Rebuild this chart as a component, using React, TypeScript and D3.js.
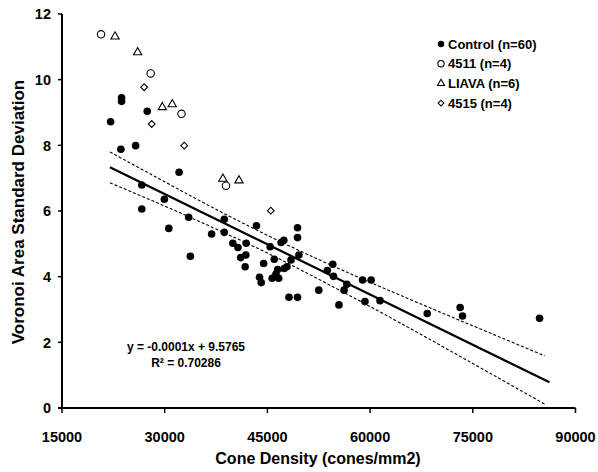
import React from 'react';
import * as d3 from 'd3';

// values
const controlDensity = [
  22100, 23700, 23700, 27450, 23600, 25750, 32100, 26650, 29950, 26650,
  33500, 30600, 33750, 36850, 38700, 38700, 43400, 49400, 49400, 47400,
  47000, 39950, 41900, 40700, 45400, 49600, 41100, 41850, 46000, 48450,
  44450, 41750, 47850, 47450, 46500, 46250, 43850, 44100, 45700, 46650,
  54550, 53750, 54650, 52500, 56600, 56200, 48150, 49400, 55450, 58900,
  60150, 59250, 61450, 68350, 73150, 73500, 84750,
];
const controlSD = [
  8.72, 9.45, 9.34, 9.04, 7.88, 7.99, 7.18, 6.79, 6.36, 6.06,
  5.81, 5.47, 4.62, 5.3, 5.75, 5.35, 5.55, 5.49, 5.19, 5.11,
  5.04, 5.02, 5.02, 4.89, 4.91, 4.66, 4.58, 4.66, 4.53, 4.51,
  4.4, 4.3, 4.3, 4.25, 4.22, 4.08, 3.98, 3.82, 3.95, 3.95,
  4.38, 4.19, 4.01, 3.59, 3.77, 3.59, 3.37, 3.37, 3.14, 3.9,
  3.9, 3.24, 3.27, 2.88, 3.06, 2.8, 2.73,
];

const g4511Density = [20700, 27950, 32450, 38950];
const g4511SD = [11.38, 10.19, 8.96, 6.77];

const liavaDensity = [22750, 26050, 29650, 31100, 38500, 40850];
const liavaSD = [11.31, 10.83, 9.16, 9.25, 6.98, 6.93];

const g4515Density = [27000, 28100, 32850, 45500];
const g4515SD = [9.77, 8.65, 7.99, 6.01];

// trend line and its confidence band
const fitSlope = -0.000102;
const fitIntercept = 9.5765;
const fitRange = [22000, 86200];
const bandDensity = [22000, 30000, 37500, 45000, 52500, 60000, 70000, 85500];
const bandUpper = [7.8, 6.89, 6.05, 5.26, 4.52, 3.83, 2.94, 1.59];
const bandLower = [6.86, 6.15, 5.45, 4.72, 3.92, 3.09, 1.94, 0.12];

const xTicks = [15000, 30000, 45000, 60000, 75000, 90000];
const yTicks = [0, 2, 4, 6, 8, 10, 12];

const legendLabels = ['Control (n=60)', '4511 (n=4)', 'LIAVA (n=6)', '4515 (n=4)'];

const font = '"Liberation Sans", Arial, sans-serif';

const Marker = ({ kind, x, y, s = 1 }: { kind: string; x: number; y: number; s?: number }) => {
  if (kind === 'control') return <circle cx={x} cy={y} r={3.8 * s} fill="#000" />;
  if (kind === '4511')
    return <circle cx={x} cy={y} r={3.7 * s} fill="#fff" stroke="#000" strokeWidth={1.1} />;
  if (kind === 'liava') {
    const p = d3.symbol().type(d3.symbolTriangle).size(30 * s * s)();
    return <path d={p || ''} transform={`translate(${x},${y})`} fill="#fff" stroke="#000" strokeWidth={1.1} />;
  }
  const p = d3.symbol().type(d3.symbolSquare).size(23 * s * s)();
  return <path d={p || ''} transform={`translate(${x},${y}) rotate(45)`} fill="#fff" stroke="#000" strokeWidth={1.1} />;
};

export default function App() {
  const width = 598;
  const height = 472;

  const x = d3.scaleLinear().domain([15000, 90000]).range([62, 575.5]);
  const y = d3.scaleLinear().domain([0, 12]).range([408, 14]);

  const fitLine = d3
    .line<number>()
    .x((d) => x(d))
    .y((d) => y(fitIntercept + fitSlope * d));

  const bandLine = d3
    .line<[number, number]>()
    .x((d) => x(d[0]))
    .y((d) => y(d[1]))
    .curve(d3.curveNatural);

  const upper = bandDensity.map((d, i) => [d, bandUpper[i]] as [number, number]);
  const lower = bandDensity.map((d, i) => [d, bandLower[i]] as [number, number]);

  const groups = [
    { kind: 'control', xs: controlDensity, ys: controlSD },
    { kind: '4511', xs: g4511Density, ys: g4511SD },
    { kind: 'liava', xs: liavaDensity, ys: liavaSD },
    { kind: '4515', xs: g4515Density, ys: g4515SD },
  ];

  return (
    <svg
      width={width}
      height={height}
      style={{ position: 'absolute', left: 0, top: 0, background: '#fff' }}
      fontFamily={font}
      fontWeight="bold"
    >
      <rect width={width} height={height} fill="#fff" />

      {/* confidence band + trend */}
      <path d={bandLine(upper) || ''} fill="none" stroke="#000" strokeWidth={1.1} strokeDasharray="3,2" />
      <path d={bandLine(lower) || ''} fill="none" stroke="#000" strokeWidth={1.1} strokeDasharray="3,2" />
      <path d={fitLine(fitRange) || ''} fill="none" stroke="#000" strokeWidth={2.2} />

      {/* points */}
      {groups.map((g) =>
        g.xs.map((d, i) => <Marker key={g.kind + i} kind={g.kind} x={x(d)} y={y(g.ys[i])} />)
      )}

      {/* axes */}
      <line x1={62} x2={62} y1={y(12)} y2={y(0)} stroke="#000" strokeWidth={2} />
      <line x1={58} x2={x(90000)} y1={408} y2={408} stroke="#000" strokeWidth={2} />
      {yTicks.map((t) => (
        <g key={'y' + t}>
          <line x1={58} x2={62} y1={y(t)} y2={y(t)} stroke="#000" strokeWidth={1.5} />
          <text x={51} y={y(t)} dy="0.36em" textAnchor="end" fontSize={14.5}>
            {t}
          </text>
        </g>
      ))}
      {xTicks.map((t) => (
        <g key={'x' + t}>
          <line x1={x(t)} x2={x(t)} y1={408} y2={413} stroke="#000" strokeWidth={1.5} />
          <text x={x(t)} y={442} textAnchor="middle" fontSize={14.5}>
            {t}
          </text>
        </g>
      ))}

      <text x={318} y={464} textAnchor="middle" fontSize={16}>
        Cone Density (cones/mm2)
      </text>
      <text
        transform="translate(24,212) rotate(-90)"
        textAnchor="middle"
        fontSize={17}
      >
        Voronoi Area Standard Deviation
      </text>

      {/* equation */}
      <text x={186} y={351} textAnchor="middle" fontSize={12}>
        y = -0.0001x + 9.5765
      </text>
      <text x={186} y={367} textAnchor="middle" fontSize={12}>
        R² = 0.70286
      </text>

      {/* legend */}
      {legendLabels.map((l, i) => (
        <g key={l} transform={`translate(0,${44 + i * 19.7})`}>
          <Marker kind={groups[i].kind} x={441} y={0} s={0.85} />
          <text x={448} y={0} dy="0.36em" fontSize={13}>
            {l}
          </text>
        </g>
      ))}
    </svg>
  );
}
